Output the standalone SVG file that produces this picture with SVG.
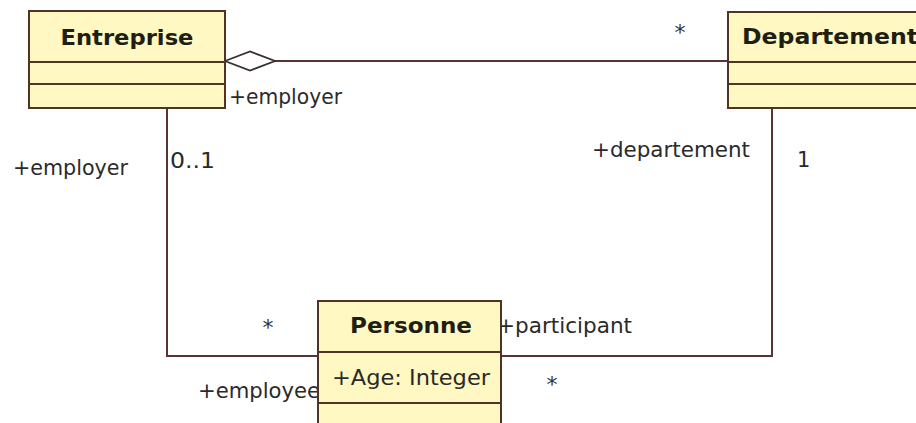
<svg xmlns="http://www.w3.org/2000/svg" width="916" height="423" viewBox="0 0 916 423">
<defs>
<style>
.box{fill:#FFF8C2;stroke:#4f3426;stroke-width:2}
.sep{stroke:#4f3426;stroke-width:2}
.line{fill:none;stroke:#5a3434;stroke-width:2}
.name{font-family:"DejaVu Sans",Verdana,sans-serif;font-weight:bold;font-size:22px;fill:#1e1e12}
.lbl{font-family:"DejaVu Sans",Verdana,sans-serif;font-size:21px;fill:#2a2a2a}
.star{font-family:"DejaVu Sans",Verdana,sans-serif;font-size:22px;fill:#333;text-anchor:middle}
</style>
</defs>
<rect width="916" height="423" fill="#ffffff"/>
<g id="connectors">
<polyline class="line" points="275,61 728,61"/>
<polygon points="225,61 250,51.5 275,61 250,70.5" fill="#ffffff" stroke="#3a3030" stroke-width="1.8"/>
<polyline class="line" points="167,108 167,356 318,356"/>
<polyline class="line" points="501,356 772,356 772,108"/>
<text class="lbl" x="229" y="104" textLength="113" lengthAdjust="spacingAndGlyphs">+employer</text>
<text class="star" x="680" y="40">*</text>
<text class="lbl" x="13" y="175" textLength="115" lengthAdjust="spacingAndGlyphs">+employer</text>
<text class="lbl" x="170" y="168" textLength="45" lengthAdjust="spacingAndGlyphs">0..1</text>
<text class="lbl" x="592" y="157" textLength="158" lengthAdjust="spacingAndGlyphs">+departement</text>
<text class="lbl" x="797" y="167">1</text>
<text class="star" x="268" y="335">*</text>
<text class="lbl" x="497" y="333" textLength="135" lengthAdjust="spacingAndGlyphs">+participant</text>
<text class="star" x="552" y="392">*</text>
<text class="lbl" x="198" y="398" textLength="122" lengthAdjust="spacingAndGlyphs">+employee</text>
</g>
<g id="entreprise">
<rect class="box" x="29" y="11" width="196" height="97"/>
<line class="sep" x1="29" y1="62" x2="225" y2="62"/>
<line class="sep" x1="29" y1="84" x2="225" y2="84"/>
<text class="name" x="127" y="45" text-anchor="middle" textLength="133" lengthAdjust="spacingAndGlyphs">Entreprise</text>
</g>
<g id="departement">
<rect class="box" x="728" y="12" width="200" height="96"/>
<line class="sep" x1="728" y1="62" x2="928" y2="62"/>
<line class="sep" x1="728" y1="84" x2="928" y2="84"/>
<text class="name" x="742" y="44" textLength="176" lengthAdjust="spacingAndGlyphs">Departement</text>
</g>
<g id="personne">
<rect class="box" x="318" y="301" width="183" height="140"/>
<line class="sep" x1="318" y1="352" x2="501" y2="352"/>
<line class="sep" x1="318" y1="403" x2="501" y2="403"/>
<text class="name" x="350" y="333" textLength="122" lengthAdjust="spacingAndGlyphs">Personne</text>
<text class="lbl" x="332" y="385" textLength="158" lengthAdjust="spacingAndGlyphs">+Age: Integer</text>
</g>
</svg>
